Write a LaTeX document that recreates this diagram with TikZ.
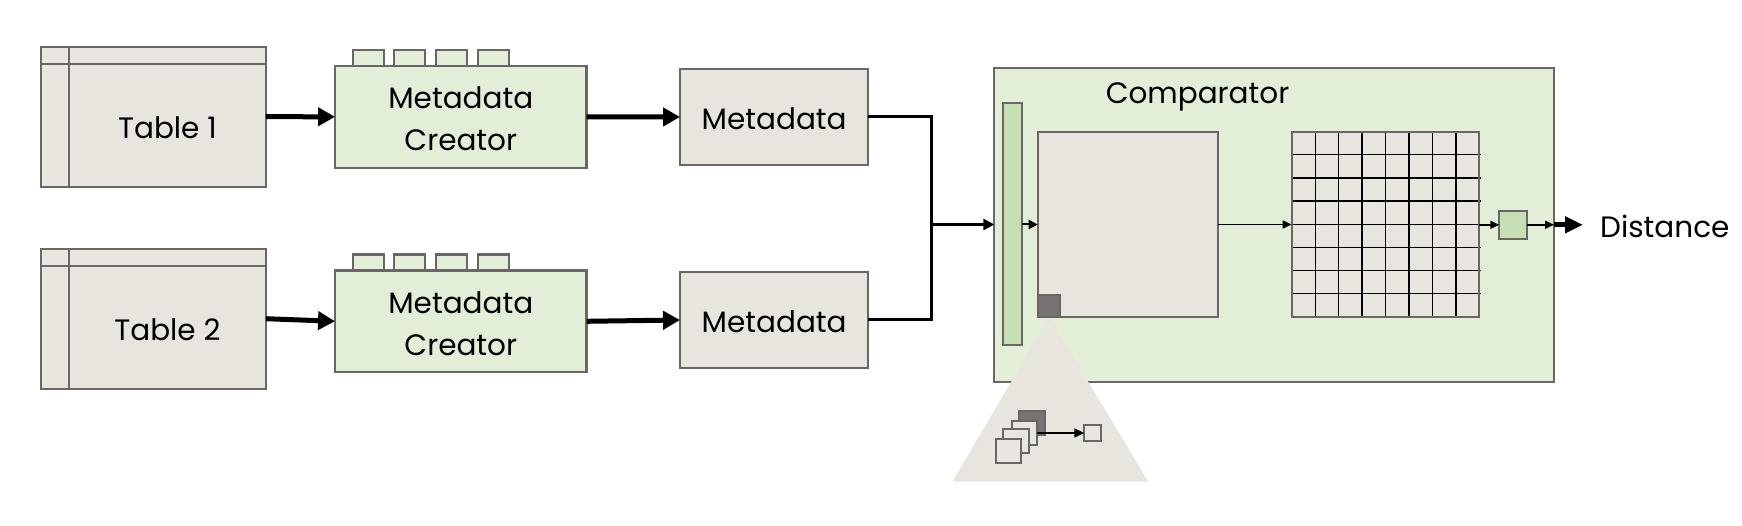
\documentclass[tikz,border=0pt]{standalone}
\usepackage{fontspec}
\setmainfont{Poppins}
\usetikzlibrary{arrows.meta,calc}
\definecolor{beige}{HTML}{E8E5DF}
\definecolor{lgreen}{HTML}{E2EED8}
\definecolor{mgreen}{HTML}{C6E0B4}
\definecolor{bord}{HTML}{686763}
\definecolor{darksq}{HTML}{767371}
\begin{document}
\begin{tikzpicture}[x=1pt,y=-1pt,
  box/.style={draw=bord,line width=2.2pt,inner sep=0pt,outer sep=0pt},
  bbox/.style={box,fill=beige},
  gbox/.style={box,fill=lgreen},
  mbox/.style={box,fill=mgreen},
  lbl/.style={font=\fontsize{29.5}{42}\selectfont,align=center},
  thickarr/.style={line width=5pt,-{Triangle[length=17pt,width=18pt]}},
  medarr/.style={line width=3pt,-{Triangle[length=11pt,width=11pt]}},
  thinarr/.style={line width=2pt,-{Triangle[length=9pt,width=9pt]}},
  conn/.style={line width=3pt}]
\useasboundingbox (0,0) rectangle (1742,526);

% ---- tables
\foreach \n/\yc/\t in {t1/116.7/Table 1, t2/318.7/Table 2}{
  \node[bbox,minimum width=225.3pt,minimum height=140pt] (\n) at (153.3,\yc) {};
  \draw[draw=bord,line width=2.2pt] ($(\n.north west)+(0,17.3)$) -- ($(\n.north east)+(0,17.3)$);
  \draw[draw=bord,line width=2.2pt] ($(\n.north west)+(28.3,0)$) -- ($(\n.south west)+(28.3,0)$);
  \node[lbl] (\n l) at (167.5,\yc+11) {\t};
}

% ---- metadata creators
\foreach \n/\yc in {c1/116.8, c2/321.3}{
  \foreach \dx in {17.7,59,101,142.7}{
    \node[gbox,minimum width=31.3pt,minimum height=18pt,anchor=south west] (\n tab\dx) at (335+\dx,\yc-50.8+2) {};
  }
  \node[gbox,minimum width=251.5pt,minimum height=101.7pt] (\n) at (460.8,\yc) {};
  \node[lbl] (\n l) at (460.8,\yc+2) {Metadata\\Creator};
}

% ---- metadata
\node[bbox,minimum width=188.3pt,minimum height=96pt] (m1) at (774.2,117) {};
\node[lbl] at ($(m1)+(0,1.5)$) {Metadata};
\node[bbox,minimum width=188.3pt,minimum height=96pt] (m2) at (774.2,320) {};
\node[lbl] at ($(m2)+(0,1.5)$) {Metadata};

\draw[thickarr] (t1.east) -- (c1.west);
\draw[thickarr] (t2.east) -- (c2.west);
\draw[thickarr] (c1.east) -- (m1.west);
\draw[thickarr] (c2.east) -- (m2.west);

% ---- comparator
\node[gbox,minimum width=559.7pt,minimum height=313.4pt] (comp) at (1274.2,225) {};
\node[lbl] (compl) at (1197.5,96.5) {Comparator};
\node[mbox,minimum width=19.6pt,minimum height=242.3pt] (bar) at (1012.5,223.8) {};
\node[bbox,minimum width=180.6pt,minimum height=185pt] (big) at (1128,224.2) {};
\node[bbox,minimum width=187.6pt,minimum height=185pt] (grid) at (1385.5,224.2) {};
\foreach \i in {1,...,7}{
  \draw[line width=1.3pt] ($(grid.north west)+(\i*23.45,0)$) -- ($(grid.south west)+(\i*23.45,0)$);
  \draw[line width=1.3pt] ($(grid.north west)+(0,\i*23.125)$) -- ($(grid.north east)+(1.7,\i*23.125)$);
}
\draw[draw=bord,line width=2.2pt] (grid.north west) rectangle (grid.south east);
\node[mbox,minimum width=28pt,minimum height=28.3pt] (sq) at (1513.3,224.8) {};

\coordinate (jn) at (931.7,224.5);
\draw[conn] (m1.east) -| (jn);
\draw[conn] (m2.east) -| (jn);
\draw[medarr] (jn) -- (comp.west |- jn);
\draw[thinarr] (bar.east |- jn) -- (big.west |- jn);
\draw[line width=1.5pt,-{Triangle[length=9pt,width=8pt]}] (big.east |- jn) -- (grid.west |- jn);
\draw[line width=1.5pt,-{Triangle[length=9pt,width=8pt]}] (grid.east |- sq) -- (sq.west);
\draw[line width=1.5pt,-{Triangle[length=9pt,width=8pt]}] (sq.east) -- (comp.east |- sq);
\node[lbl,anchor=west,inner xsep=17pt] (dist) at (1583,226) {Distance};
\draw[line width=5pt,-{Triangle[length=18pt,width=16pt]}] (comp.east |- sq) -- (dist.west |- sq);

% ---- zoom triangle
\fill[beige] (1049.3,317.3) -- (952.3,481.7) -- (1148.3,481.7) -- cycle;
\node[box,fill=darksq,minimum width=22.6pt,minimum height=21.4pt,anchor=south west] (dk) at (1037.7,316.7) {};
\node[box,line width=2pt,fill=darksq,minimum width=26pt,minimum height=24.6pt,anchor=north west] (s4) at (1019.3,410.7) {};
\node[box,line width=2pt,fill=beige,minimum width=25.6pt,minimum height=24pt,anchor=north west] (s3) at (1011.7,420.7) {};
\node[box,line width=2pt,fill=beige,minimum width=26pt,minimum height=24.3pt,anchor=north west] (s2) at (1003.3,429) {};
\node[box,line width=2pt,fill=beige,minimum width=25.3pt,minimum height=24pt,anchor=north west] (s1) at (995.7,438.7) {};
\node[box,line width=2pt,fill=beige,minimum width=17pt,minimum height=16.6pt,anchor=north west] (out) at (1084.3,424.7) {};
\draw[line width=1.3pt,-{Triangle[length=10pt,width=9pt]}] (s3.east |- out) -- (out.west);
\end{tikzpicture}
\end{document}
